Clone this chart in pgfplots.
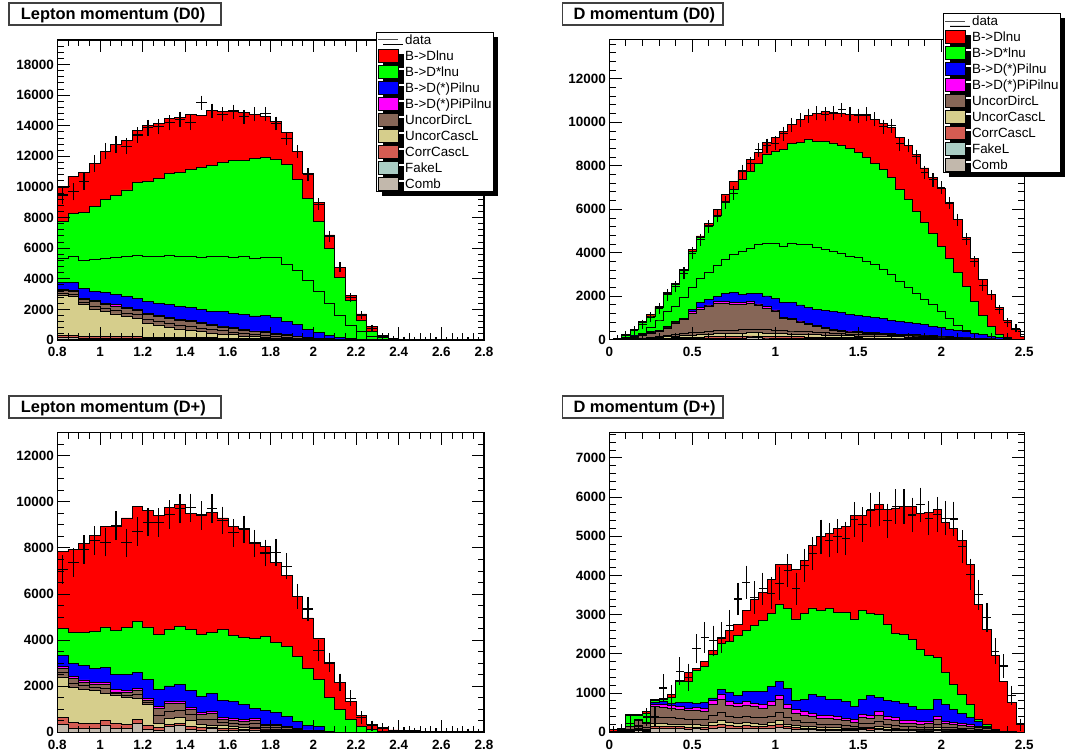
\documentclass[border=0pt]{standalone}
\usepackage{fontspec}
\setmainfont{Liberation Sans}
\usepackage{pgfplots}
\pgfplotsset{compat=1.18}
\usepackage{pgfplotstable}
\usetikzlibrary{shadows}

\definecolor{cRed}{RGB}{255,0,0}
\definecolor{cGrn}{RGB}{0,255,0}
\definecolor{cBlu}{RGB}{0,0,255}
\definecolor{cMag}{RGB}{255,0,255}
\definecolor{cBrn}{RGB}{134,102,87}
\definecolor{cYel}{RGB}{214,206,140}
\definecolor{cCor}{RGB}{212,92,82}
\definecolor{cFak}{RGB}{170,205,196}
\definecolor{cCmb}{RGB}{194,184,172}

% ---------------- Lepton momentum (D0): stacked tops, left bin edges
\pgfplotstableread{
x tot grn grn2 blu mag brn brn2 yel cor cmb
0.80 9950 7730 5350 3770 3310 3230 3070 2940 320 150
0.85 10710 8270 5490 3770 3220 3150 2970 2830 300 140
0.90 10950 8340 5220 3370 2720 2650 2450 2290 260 130
0.95 11540 8710 5270 3160 2570 2500 2220 2000 240 120
1.00 12300 9210 5330 3090 2390 2320 2060 1850 230 110
1.05 12800 9470 5400 3000 2290 2220 1930 1700 220 110
1.10 13020 9800 5440 2830 2130 2060 1760 1520 210 100
1.15 13670 10270 5510 2720 2000 1930 1640 1410 200 100
1.20 14040 10340 5440 2500 1740 1670 1350 1090 190 90
1.25 14150 10560 5440 2390 1630 1560 1240 980 180 90
1.30 14480 10880 5510 2290 1460 1390 1080 830 170 80
1.35 14540 10930 5440 2180 1350 1280 970 720 160 80
1.40 14760 11170 5440 2110 1260 1190 870 610 150 75
1.45 14690 11280 5380 2000 1130 1060 770 540 150 75
1.50 15020 11430 5440 1890 1040 970 670 430 140 70
1.55 14910 11600 5440 1850 910 850 600 390 130 65
1.60 15020 11750 5400 1740 800 740 510 330 120 60
1.65 14850 11750 5440 1650 700 640 430 260 110 55
1.70 14760 11860 5330 1570 590 540 360 220 100 50
1.75 14580 11930 5400 1600 540 490 310 170 90 45
1.80 14260 11820 5400 1460 430 390 250 130 80 40
1.85 13560 11470 4960 1200 330 290 180 100 70 35
1.90 12340 10510 4530 1020 260 220 130 80 60 30
1.95 10880 9250 3900 700 170 140 90 60 50 25
2.00 8970 7770 3180 480 110 90 70 50 40 20
2.05 6860 5990 2390 280 70 60 50 40 30 15
2.10 4750 4090 1590 170 45 40 35 28 20 10
2.15 2900 2570 980 80 25 22 18 14 10 5
2.20 1700 1300 545 30 12 10 8 6 5 2
2.25 870 545 220 10 0 0 0 0 0 0
2.30 300 150 50 0 0 0 0 0 0 0
2.35 100 40 10 0 0 0 0 0 0 0
2.40 40 15 0 0 0 0 0 0 0 0
2.45 20 5 0 0 0 0 0 0 0 0
2.50 10 0 0 0 0 0 0 0 0 0
2.55 5 0 0 0 0 0 0 0 0 0
2.60 0 0 0 0 0 0 0 0 0 0
2.65 0 0 0 0 0 0 0 0 0 0
2.70 0 0 0 0 0 0 0 0 0 0
2.75 0 0 0 0 0 0 0 0 0 0
2.80 0 0 0 0 0 0 0 0 0 0
}\hTL
\pgfplotstableread{
xc dat err xe
0.825 9470 390 0.025
0.875 9690 380 0.025
0.925 10380 380 0.025
0.975 11540 370 0.025
1.025 12340 360 0.025
1.075 12780 350 0.025
1.125 12670 350 0.025
1.175 13390 340 0.025
1.225 13870 330 0.025
1.275 13930 320 0.025
1.325 14190 310 0.025
1.375 14430 300 0.025
1.425 14190 300 0.025
1.475 15500 280 0.025
1.525 14980 280 0.025
1.575 14740 280 0.025
1.625 14910 280 0.025
1.675 14580 270 0.025
1.725 14740 270 0.025
1.775 14780 270 0.025
1.825 14150 260 0.025
1.875 13170 250 0.025
1.925 12300 240 0.025
1.975 10820 220 0.025
2.025 8880 200 0.025
2.075 6750 170 0.025
2.125 4750 140 0.025
2.175 2760 110 0.025
2.225 1630 80 0.025
2.275 760 60 0.025
2.325 220 30 0.025
2.375 65 15 0.025
2.425 30 10 0.025
2.475 15 8 0.025
2.525 10 6 0.025
2.575 5 5 0.025
2.625 3 4 0.025
2.675 2 3 0.025
2.725 1 2 0.025
2.775 0 0 0.025
}\dTL

% ---------------- D momentum (D0): stacked tops at bin centres
\pgfplotstableread{
x tot grn grn2 blu mag brn brn2 yel cor cmb
0.00 10 5 2 2 2 1 1 0 0 0
0.05 50 20 10 10 5 3 2 1 1 0
0.10 260 240 100 90 70 55 20 12 8 4
0.15 480 450 200 170 150 120 50 30 18 8
0.20 830 790 300 260 230 190 80 50 30 15
0.25 1140 1090 560 370 330 280 120 75 45 22
0.30 1520 1470 906 445 420 370 160 100 60 30
0.35 2160 2110 1289 600 580 540 200 130 75 38
0.40 2590 2540 1520 830 810 770 240 160 90 45
0.45 3240 3170 1949 980 960 910 280 185 100 50
0.50 4130 4060 2410 1397 1300 1220 320 210 110 55
0.55 4770 4700 2824 1704 1489 1410 350 230 120 60
0.60 5360 5270 3085 1857 1596 1520 380 250 130 65
0.65 6000 5700 3438 1980 1750 1670 410 270 140 70
0.70 6660 6350 3698 2133 1750 1680 420 280 145 72
0.75 7270 6920 3944 2164 1704 1630 430 290 150 75
0.80 7770 7380 4051 2087 1704 1630 460 310 160 80
0.85 8270 7730 4205 2133 1750 1670 480 330 170 85
0.90 8610 8120 4389 2133 1642 1560 470 320 165 82
0.95 9070 8500 4435 2010 1520 1440 450 300 155 78
1.00 9320 8655 4435 1903 1366 1290 420 280 145 72
1.05 9580 8730 4312 1704 1029 960 410 270 140 70
1.10 9880 9040 4435 1704 983 910 400 260 135 68
1.15 10110 9070 4389 1596 860 790 380 250 130 65
1.20 10300 9190 4359 1489 752 690 360 240 125 62
1.25 10420 9115 4236 1397 675 610 340 225 115 58
1.30 10480 9100 4130 1330 560 500 320 210 110 55
1.35 10450 9050 4050 1290 480 430 300 200 105 52
1.40 10420 8950 3970 1240 440 390 280 185 95 48
1.45 10380 8800 3820 1180 400 350 260 175 90 45
1.50 10340 8600 3780 1120 370 320 250 165 85 42
1.55 10300 8400 3590 1060 340 290 240 160 80 40
1.60 10140 8100 3440 1010 320 270 230 150 78 39
1.65 9930 7850 3210 960 300 255 220 145 75 38
1.70 9750 7450 2980 900 280 235 210 140 72 36
1.75 9300 6900 2670 850 260 220 200 130 68 34
1.80 8950 6450 2410 800 240 200 185 120 62 31
1.85 8500 5900 2130 740 220 185 170 110 56 28
1.90 7900 5400 1870 680 200 170 155 100 50 25
1.95 7450 4900 1630 620 180 150 140 90 45 22
2.00 6950 4300 1290 560 160 135 125 80 40 20
2.05 6300 3750 980 490 140 115 110 70 35 18
2.10 5550 3100 675 420 120 100 95 60 30 15
2.15 4700 2450 445 360 100 85 80 50 25 12
2.20 3750 1750 290 290 80 65 60 40 20 10
2.25 2750 1100 230 230 60 50 45 30 15 8
2.30 2100 600 160 160 40 32 30 20 10 5
2.35 1500 260 110 110 25 20 18 12 6 3
2.40 900 90 60 60 15 12 10 6 3 2
2.45 450 30 30 30 8 6 5 3 2 1
2.50 150 10 10 10 0 0 0 0 0 0
}\hTR
\pgfplotstableread{
xc dat err xe
0.00 5 5 0.025
0.05 40 30 0.025
0.10 200 60 0.025
0.15 415 80 0.025
0.20 700 100 0.025
0.25 1030 110 0.025
0.30 1440 120 0.025
0.35 2060 130 0.025
0.40 2440 140 0.025
0.45 3050 150 0.025
0.50 3980 160 0.025
0.55 4590 160 0.025
0.60 5200 170 0.025
0.65 5690 170 0.025
0.70 6310 180 0.025
0.75 6740 180 0.025
0.80 7730 190 0.025
0.85 8090 190 0.025
0.90 8730 190 0.025
0.95 8920 200 0.025
1.00 9040 200 0.025
1.05 9470 200 0.025
1.10 9880 200 0.025
1.15 10110 200 0.025
1.20 10300 200 0.025
1.25 10420 200 0.025
1.30 10370 200 0.025
1.35 10420 200 0.025
1.40 10570 200 0.025
1.45 10370 200 0.025
1.50 10300 200 0.025
1.55 10370 200 0.025
1.60 10140 200 0.025
1.65 9800 200 0.025
1.70 9840 200 0.025
1.75 9010 190 0.025
1.80 8930 190 0.025
1.85 8420 190 0.025
1.90 7700 180 0.025
1.95 7350 180 0.025
2.00 7000 170 0.025
2.05 6280 160 0.025
2.10 5510 150 0.025
2.15 4620 140 0.025
2.20 3590 130 0.025
2.25 2490 110 0.025
2.30 2060 100 0.025
2.35 1400 90 0.025
2.40 780 70 0.025
2.45 520 60 0.025
2.50 250 40 0.025
}\dTR

% ---------------- Lepton momentum (D+)
\pgfplotstableread{
x tot grn blu mag brn brn2 yel cor cmb
0.80 7855 4520 3330 2850 2760 2580 2400 650 320
0.85 7930 4330 3000 2420 2330 2140 1950 420 150
0.90 8190 4350 2880 2270 2180 2025 1870 400 150
0.95 8540 4380 2780 2160 2070 1935 1800 380 150
1.00 8940 4570 2830 2170 2080 1890 1700 520 300
1.05 8940 4420 2520 1840 1750 1685 1620 380 150
1.10 9300 4550 2490 1810 1720 1610 1500 340 150
1.15 9810 4810 2600 1910 1820 1635 1450 560 380
1.20 9640 4570 2300 1480 1390 1290 1190 300 120
1.25 9410 4230 1870 1140 1050 715 380 200 60
1.30 9740 4480 2010 1330 1240 920 600 350 250
1.35 9880 4590 2060 1360 1270 960 650 400 300
1.40 9490 4480 1810 1090 1000 760 520 250 120
1.45 9450 4260 1570 850 760 545 330 200 100
1.50 9520 4330 1690 900 810 560 310 220 150
1.55 9300 4450 1400 650 570 425 280 180 80
1.60 8940 4200 1330 610 530 390 250 160 80
1.65 8830 4130 1190 565 490 355 220 140 80
1.70 8220 4090 1050 610 530 365 200 150 100
1.75 8070 4160 950 350 280 210 140 100 50
1.80 7380 3910 850 360 290 205 120 80 40
1.85 6800 3720 700 250 190 135 80 60 30
1.90 5900 3290 470 170 120 85 50 40 20
1.95 4960 2780 290 100 60 42 25 20 10
2.00 4090 2300 250 60 35 22 10 8 5
2.05 3000 1500 20 10 5 2 1 0 0
2.10 2160 1000 10 5 2 1 0 0 0
2.15 1330 550 5 0 0 0 0 0 0
2.20 750 250 0 0 0 0 0 0 0
2.25 350 120 0 0 0 0 0 0 0
2.30 170 50 0 0 0 0 0 0 0
2.35 100 30 0 0 0 0 0 0 0
2.40 70 20 0 0 0 0 0 0 0
2.45 60 10 0 0 0 0 0 0 0
2.50 50 5 0 0 0 0 0 0 0
2.55 40 0 0 0 0 0 0 0 0
2.60 35 0 0 0 0 0 0 0 0
2.65 30 0 0 0 0 0 0 0 0
2.70 30 0 0 0 0 0 0 0 0
2.75 30 0 0 0 0 0 0 0 0
2.80 30 0 0 0 0 0 0 0 0
}\hBL
\pgfplotstableread{
xc dat err xe
0.825 7060 500 0.025
0.875 7380 500 0.025
0.925 7930 500 0.025
0.975 8330 500 0.025
1.025 8250 500 0.025
1.075 8970 500 0.025
1.125 8220 500 0.025
1.175 8710 500 0.025
1.225 9120 500 0.025
1.275 9090 500 0.025
1.325 9450 500 0.025
1.375 9700 500 0.025
1.425 9740 500 0.025
1.475 9410 500 0.025
1.525 9700 500 0.025
1.575 9190 480 0.025
1.625 8650 480 0.025
1.675 8800 480 0.025
1.725 8190 470 0.025
1.775 7780 460 0.025
1.825 7810 460 0.025
1.875 7200 440 0.025
1.925 5900 420 0.025
1.975 5350 400 0.025
2.025 3550 350 0.025
2.075 3040 300 0.025
2.125 2160 260 0.025
2.175 1480 220 0.025
2.225 650 160 0.025
2.275 280 110 0.025
2.325 200 80 0.025
2.375 70 50 0.025
2.425 50 40 0.025
2.475 40 35 0.025
2.525 30 30 0.025
2.575 30 30 0.025
2.625 25 25 0.025
2.675 20 25 0.025
2.725 20 20 0.025
2.775 15 20 0.025
}\dBL

% ---------------- D momentum (D+)
\pgfplotstableread{
x tot grn blu mag brn brn2 yel cor cmb
0.00 60 30 10 10 8 5 3 2 1
0.05 100 90 35 35 30 18 10 7 4
0.10 460 440 150 150 140 85 50 35 20
0.15 450 440 320 320 300 180 100 70 45
0.20 530 480 240 230 215 130 75 50 30
0.25 830 800 772 720 650 390 230 160 100
0.30 870 840 790 704 640 380 220 150 100
0.35 960 880 747 678 610 370 210 145 95
0.40 1320 1290 772 661 590 350 200 140 90
0.45 1520 1300 772 618 550 330 190 130 85
0.50 1630 1580 747 635 560 340 195 135 90
0.55 1800 1690 772 601 530 320 185 130 85
0.60 2090 1990 875 807 700 420 240 170 110
0.65 2400 2270 1090 961 840 500 290 200 130
0.70 2590 2310 1004 790 690 410 240 170 110
0.75 2760 2460 935 747 650 390 225 160 105
0.80 3100 2600 1030 790 690 410 240 170 110
0.85 3380 2720 1047 747 650 390 225 160 105
0.90 3570 2840 1030 704 610 370 210 150 95
0.95 3890 3030 1175 790 690 410 240 170 110
1.00 4280 3270 1304 944 830 500 290 200 130
1.05 4280 3150 1115 704 610 370 210 150 95
1.10 4160 2890 807 575 490 290 170 120 75
1.15 4390 3030 832 532 440 260 150 105 70
1.20 4770 3170 961 490 400 240 140 100 65
1.25 4990 3100 918 430 350 210 120 85 55
1.30 5060 3150 832 430 350 210 120 85 55
1.35 5200 3060 832 404 330 200 115 80 52
1.40 5240 3060 790 361 290 175 100 70 45
1.45 5540 2890 661 318 250 150 90 65 40
1.50 5540 3100 832 464 380 230 135 95 60
1.55 5650 3030 935 440 360 215 125 90 58
1.60 5800 3000 892 532 440 265 155 110 70
1.65 5690 2760 807 400 330 200 115 80 52
1.70 5720 2520 790 380 310 185 110 78 50
1.75 5760 2500 747 292 230 140 80 56 36
1.80 5760 2370 661 290 230 140 80 56 36
1.85 5570 2120 575 275 210 125 75 52 34
1.90 5600 1950 575 275 215 130 75 52 34
1.95 5690 1900 832 404 330 200 115 80 52
2.00 5350 1520 704 280 220 130 75 52 34
2.05 5200 1230 575 260 200 120 70 50 32
2.10 4880 960 490 232 180 110 65 45 30
2.15 4280 700 378 190 150 90 52 36 24
2.20 3270 320 275 150 115 70 40 28 18
2.25 2630 190 147 121 90 55 32 22 14
2.30 1950 60 50 50 40 25 15 10 6
2.35 1300 20 20 15 10 6 4 3 2
2.40 750 10 10 5 3 2 1 1 0
2.45 230 0 0 0 0 0 0 0 0
2.50 230 0 0 0 0 0 0 0 0
}\hBR
\pgfplotstableread{
xc dat err xe
0.025 30 50 0.025
0.075 60 70 0.025
0.125 230 120 0.025
0.175 150 120 0.025
0.225 390 150 0.025
0.275 400 170 0.025
0.325 1130 280 0.025
0.375 880 260 0.025
0.425 1560 280 0.025
0.475 1400 280 0.025
0.525 2130 300 0.025
0.575 2420 320 0.025
0.625 2330 320 0.025
0.675 2420 320 0.025
0.725 2720 330 0.025
0.775 3400 340 0.025
0.825 3830 350 0.025
0.875 3440 340 0.025
0.925 3660 340 0.025
0.975 3550 340 0.025
1.025 3790 350 0.025
1.075 4130 350 0.025
1.125 3660 340 0.025
1.175 4260 350 0.025
1.225 4560 350 0.025
1.275 4990 360 0.025
1.325 4900 360 0.025
1.375 5000 360 0.025
1.425 4940 360 0.025
1.475 5430 370 0.025
1.525 5300 370 0.025
1.575 5670 370 0.025
1.625 5690 370 0.025
1.675 5390 370 0.025
1.725 5760 370 0.025
1.775 5760 370 0.025
1.825 5540 370 0.025
1.875 5800 370 0.025
1.925 5460 370 0.025
1.975 5560 370 0.025
2.025 5460 370 0.025
2.075 5440 370 0.025
2.125 4730 350 0.025
2.175 4030 330 0.025
2.225 3510 310 0.025
2.275 2930 290 0.025
2.325 2070 260 0.025
2.375 1690 230 0.025
2.425 940 170 0.025
2.475 190 90 0.025
}\dBR

\pgfplotsset{
  rootax/.style={
    scale only axis, axis on top, clip=true,
    tick align=inside, tick pos=both,
    xticklabel pos=left, yticklabel pos=left,
    major tick length=12.5bp, minor tick length=6.5bp,
    tick style={black, line width=0.9bp},
    axis line style={black, line width=1.2bp},
    ticklabel style={font=\bfseries\fontsize{13.5}{14}\selectfont},
    xticklabel style={yshift=-4bp},
    scaled ticks=false, ymin=0,
    legend image code/.code={\draw[#1,draw=black,line width=0.8bp] (0bp,-6.3bp) rectangle (20bp,6.3bp);},
    legend style={draw=black, line width=0.8bp, fill=white,
      font=\fontsize{13.4}{15}\selectfont,
      inner xsep=1.2bp, inner ysep=0.5bp, row sep=1.9bp, column sep=6bp,
      nodes={inner sep=0.6bp},
      drop shadow={shadow xshift=5bp, shadow yshift=-5bp, fill=black, opacity=1}},
    legend cell align=left,
  },
  lay/.style={forget plot, draw=black, line width=0.9bp},
}

\newcommand{\ls}{\rule[-3.2bp]{0pt}{14.6bp}}
\newcommand{\rootlegend}{%
  \addlegendimage{legend image code/.code={\draw[black!70,line width=0.8bp] (0bp,0bp) -- (20bp,0bp);}}
  \addlegendentry{\ls data}
  \addlegendimage{fill=cRed}\addlegendentry{\ls B->Dlnu}
  \addlegendimage{fill=cGrn}\addlegendentry{\ls B->D*lnu}
  \addlegendimage{fill=cBlu}\addlegendentry{\ls B->D(*)Pilnu}
  \addlegendimage{fill=cMag}\addlegendentry{\ls B->D(*)PiPilnu}
  \addlegendimage{fill=cBrn}\addlegendentry{\ls UncorDircL}
  \addlegendimage{fill=cYel}\addlegendentry{\ls UncorCascL}
  \addlegendimage{fill=cCor}\addlegendentry{\ls CorrCascL}
  \addlegendimage{fill=cFak}\addlegendentry{\ls FakeL}
  \addlegendimage{fill=cCmb}\addlegendentry{\ls Comb}
}
\newcommand{\stackA}[2]{%
  \addplot[lay,#2,fill=cRed] table[x=x,y=tot]{#1} \closedcycle;
  \addplot[lay,#2,fill=cGrn] table[x=x,y=grn]{#1} \closedcycle;
  \addplot[lay,#2,fill=cGrn] table[x=x,y=grn2]{#1} \closedcycle;
  \stackC{#1}{#2}}
\newcommand{\stackB}[2]{%
  \addplot[lay,#2,fill=cRed] table[x=x,y=tot]{#1} \closedcycle;
  \addplot[lay,#2,fill=cGrn] table[x=x,y=grn]{#1} \closedcycle;
  \stackC{#1}{#2}}
\newcommand{\stackC}[2]{%
  \addplot[lay,#2,fill=cBlu] table[x=x,y=blu]{#1} \closedcycle;
  \addplot[lay,#2,fill=cMag] table[x=x,y=mag]{#1} \closedcycle;
  \addplot[lay,#2,fill=cBrn] table[x=x,y=brn]{#1} \closedcycle;
  \addplot[lay,#2,fill=cBrn] table[x=x,y=brn2]{#1} \closedcycle;
  \addplot[lay,#2,fill=cYel] table[x=x,y=yel]{#1} \closedcycle;
  \addplot[lay,#2,fill=cCor] table[x=x,y=cor]{#1} \closedcycle;
  \addplot[lay,#2,fill=cCmb] table[x=x,y=cmb]{#1} \closedcycle;}
\newcommand{\datapts}[1]{%
  \addplot[forget plot, draw=none, mark=none,
    error bars/.cd, x dir=both, x explicit, error mark=none,
    error bar style={draw=black, line width=1.1bp}]
    table[x=xc, y=dat, x error=xe]{#1};
  \addplot[forget plot, draw=none, mark=none,
    error bars/.cd, y dir=both, y explicit,
    error mark options={draw=black, mark size=2.8bp, line width=1.1bp},
    error bar style={draw=black, line width=1.1bp}]
    table[x=xc, y=dat, y error=err]{#1};}

\begin{document}
\begin{tikzpicture}
\path[use as bounding box] (0,0) rectangle (1078bp,754bp);

% ---------- top left
\begin{axis}[rootax, at={(57.33bp,414bp)}, anchor=south west,
  width=426.7bp, height=300bp,
  xmin=0.8, xmax=2.8, ymax=19600,
  xtick={0.8,1.0,1.2,1.4,1.6,1.8,2.0,2.2,2.4,2.6,2.8},
  xticklabels={0.8,1,1.2,1.4,1.6,1.8,2,2.2,2.4,2.6,2.8},
  minor xtick={0.85,0.9,...,2.79},
  ytick={0,2000,...,18000},
  yticklabels={0,2000,4000,6000,8000,10000,12000,14000,16000,18000},
  minor ytick={400,800,...,19600},
  legend style={at={(rel axis cs:1.023,1.027)}, anchor=north east}]
\rootlegend
\stackA{\hTL}{const plot mark left}
\datapts{\dTL}
\end{axis}

% ---------- top right
\begin{axis}[rootax, at={(609.33bp,414.3bp)}, anchor=south west,
  width=415bp, height=300bp,
  xmin=0, xmax=2.5, ymax=13800,
  xtick={0,0.5,1,1.5,2,2.5},
  xticklabels={0,0.5,1,1.5,2,2.5},
  minor xtick={0.1,0.2,...,2.45},
  ytick={0,2000,...,12000},
  yticklabels={0,2000,4000,6000,8000,10000,12000},
  minor ytick={400,800,...,13600},
  legend style={at={(rel axis cs:1.0877,1.089)}, anchor=north east}]
\rootlegend
\stackA{\hTR}{const plot mark mid}
\datapts{\dTR}
\end{axis}

% ---------- bottom left
\begin{axis}[rootax, at={(57.33bp,21.7bp)}, anchor=south west,
  width=426.7bp, height=299.6bp,
  xmin=0.8, xmax=2.8, ymax=13000,
  xtick={0.8,1.0,1.2,1.4,1.6,1.8,2.0,2.2,2.4,2.6,2.8},
  xticklabels={0.8,1,1.2,1.4,1.6,1.8,2,2.2,2.4,2.6,2.8},
  minor xtick={0.85,0.9,...,2.79},
  ytick={0,2000,...,12000},
  yticklabels={0,2000,4000,6000,8000,10000,12000},
  minor ytick={500,1000,...,12600}]
\stackB{\hBL}{const plot mark left}
\datapts{\dBL}
\end{axis}

% ---------- bottom right
\begin{axis}[rootax, at={(609.33bp,21.7bp)}, anchor=south west,
  width=415bp, height=299.6bp,
  xmin=0, xmax=2.5, ymax=7640,
  xtick={0,0.5,1,1.5,2,2.5},
  xticklabels={0,0.5,1,1.5,2,2.5},
  minor xtick={0.1,0.2,...,2.45},
  ytick={0,1000,...,7000},
  yticklabels={0,1000,2000,3000,4000,5000,6000,7000},
  minor ytick={200,400,...,7600}]
\stackB{\hBR}{const plot mark left}
\datapts{\dBR}
\end{axis}

% ---------- title boxes
\tikzset{tbox/.style={draw=black!75, line width=1.2bp, fill=white}}
\tikzset{ttext/.style={anchor=base west, inner sep=0pt, font=\bfseries\fontsize{16.5}{18}\selectfont}}
\draw[tbox] (9bp,729bp) rectangle (221bp,751bp);
\node[ttext] at (20.7bp,734bp) {Lepton momentum (D0)};
\draw[tbox] (562.7bp,729bp) rectangle (723bp,751bp);
\node[ttext] at (573.3bp,734bp) {D momentum (D0)};
\draw[tbox] (9bp,336bp) rectangle (221bp,358bp);
\node[ttext] at (20.7bp,341.3bp) {Lepton momentum (D+)};
\draw[tbox] (562.7bp,336bp) rectangle (723bp,358bp);
\node[ttext] at (573.3bp,341.3bp) {D momentum (D+)};
\end{tikzpicture}
\end{document}
